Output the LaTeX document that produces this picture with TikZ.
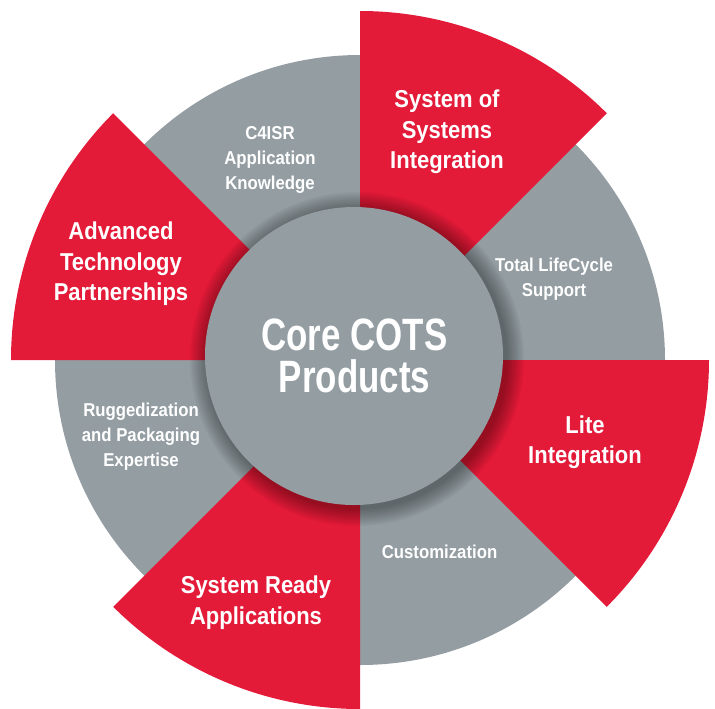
\documentclass[tikz,border=0pt]{standalone}
\usepackage{fontspec}
\setmainfont{Liberation Sans}
\newfontfamily\labelfont{Liberation Sans}[FakeStretch=0.9]
\newfontfamily\corefont{Liberation Sans}[FakeStretch=0.77]
\definecolor{ringgray}{RGB}{147,157,162}
\definecolor{sectorred}{RGB}{227,26,56}
\begin{document}
\begin{tikzpicture}[
    graylabel/.style={text=white,align=center,font=\labelfont\bfseries\fontsize{10.6}{14.2}\selectfont},
    redlabel/.style={text=white,align=center,font=\labelfont\bfseries\fontsize{13.9}{17.3}\selectfont},
    corelabel/.style={text=white,align=center,font=\corefont\bfseries\fontsize{25.8}{24}\selectfont}
  ]
        \useasboundingbox (-7.2,-6.96) rectangle (7.1,7.2);
        \fill[ringgray] (0, 0) circle (6.1);
        \foreach \a in {45,135,225,315}
            \fill[sectorred] (0, 0) -- (\a:6.98) arc[start angle=\a, delta angle=45, radius=6.98] -- cycle;
        % soft shadow under the core
        \foreach \i in {1,...,12}
            \fill[black,opacity=0.03] (-0.06, 0.02) circle[radius=2.98+0.03*\i];
        \fill[ringgray] (-0.12, 0.08) circle (2.98);
        \node[corelabel] (core) at (-0.11, 0.08) {Core COTS\\Products};
        \node[redlabel] (sos) at (1.74, 4.56) {System of\\Systems\\Integration};
        \node[redlabel] (advanced) at (-4.78, 1.92) {Advanced\\Technology\\Partnerships};
        \node[redlabel] (lite) at (4.5, -1.64) {Lite\\Integration};
        \node[redlabel] (sysready) at (-2.08, -4.85) {System Ready\\Applications};
        \node[graylabel] (c4isr) at (-1.8, 4.0) {C4ISR\\Application\\Knowledge};
        \node[graylabel] (lifecycle) at (3.88, 1.62) {Total LifeCycle\\Support};
        \node[graylabel] (rugged) at (-4.38, -1.54) {Ruggedization\\and Packaging\\Expertise};
        \node[graylabel] (custom) at (1.59, -3.83) {Customization};
    \end{tikzpicture}
\end{document}
